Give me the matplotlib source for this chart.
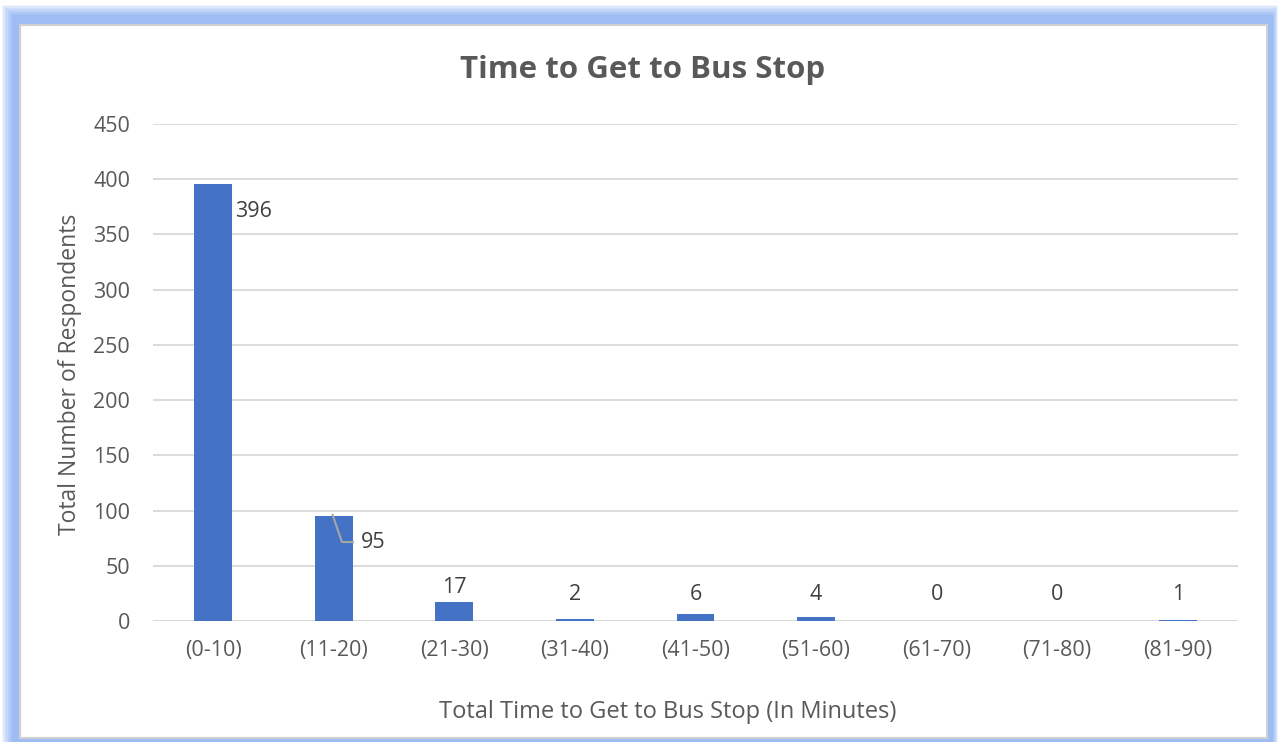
import matplotlib
matplotlib.use("Agg")
import matplotlib.pyplot as plt
from matplotlib.patches import Rectangle
import matplotlib.colors as mcolors
import numpy as np

categories = ["(0-10)", "(11-20)", "(21-30)", "(31-40)", "(41-50)", "(51-60)", "(61-70)", "(71-80)", "(81-90)"]
values = [396, 95, 17, 2, 6, 4, 0, 0, 1]
yticks = [0, 50, 100, 150, 200, 250, 300, 350, 400, 450]

W, H = 1278, 742
fig = plt.figure(figsize=(W/100, H/100), dpi=100)
fig.patch.set_facecolor("white")

# soft blue glow border (nested rectangles, pixel coordinates from top-left)
outer = (2, 5, 1278, 750)     # left, top, right, bottom
inner = (12, 15, 1273, 746)
c0 = np.array(mcolors.to_rgb("#F2F6FE"))
c1 = np.array(mcolors.to_rgb("#9FBDF5"))
steps = 8
for k in range(steps):
    t = k / (steps - 1)
    l = outer[0] + (inner[0] - outer[0]) * t
    tp = outer[1] + (inner[1] - outer[1]) * t
    r = outer[2] + (inner[2] - outer[2]) * t
    b = outer[3] + (inner[3] - outer[3]) * t
    col = c0 + (c1 - c0) * (t ** 0.7)
    fig.patches.append(Rectangle((l/W, 1-b/H), (r-l)/W, (b-tp)/H, transform=fig.transFigure,
                                 facecolor=col, edgecolor="none", zorder=-10 + k * 0.01))
fig.patches.append(Rectangle((20/W, 1-738/H), (1267-20)/W, (738-25)/H, transform=fig.transFigure,
                             facecolor="white", edgecolor="#D0D0D0", linewidth=1.5, zorder=-8))

text_color = "#595959"
label_color = "#404040"
font = "Open Sans"
fs = 15.5

ax = fig.add_axes([153/W, 1-621/H, (1238-153)/W, (621-124)/H])
ax.set_facecolor("none")
x = list(range(len(categories)))
ax.bar(x, values, width=0.315, color="#4472C4", zorder=3)
ax.set_xlim(-0.5, len(categories)-0.5)
ax.set_ylim(0, 450)
ax.set_yticks(yticks)
ax.set_yticklabels([str(t) for t in yticks], fontsize=fs, color=text_color, family=font)
ax.set_xticks(x)
ax.set_xticklabels(categories, fontsize=fs, color=text_color, family=font)
ax.tick_params(axis="y", length=0, pad=16.5)
ax.tick_params(axis="x", length=0, pad=14)
ax.grid(axis="y", color="#D9D9D9", linewidth=1.3, zorder=0)
for s in ax.spines.values():
    s.set_visible(False)
ax.axhline(0, color="#D9D9D9", linewidth=1.3, zorder=2)

# data labels
for i, v in enumerate(values):
    if i == 0:
        ax.text(i + 0.18, v - 25.5, str(v), fontsize=fs, color=label_color, family=font,
                ha="left", va="center", zorder=4)
    elif i == 1:
        ax.plot([i - 0.01, i + 0.067, i + 0.158], [v + 1, v - 23.5, v - 23.5], color="#A6A6A6",
                linewidth=1.5, zorder=4)
        ax.text(i + 0.225, v - 24, str(v), fontsize=fs, color=label_color, family=font,
                ha="left", va="center", zorder=4)
    else:
        ax.text(i, max(v + 13.5, 24), str(v), fontsize=fs, color=label_color, family=font,
                ha="center", va="center", zorder=4)

ax.set_xlabel("Total Time to Get to Bus Stop (In Minutes)", fontsize=17, color=text_color,
              family=font, va="center")
ax.xaxis.set_label_coords((668-153)/1085, (621-712)/497)
ax.set_ylabel("Total Number of Respondents", fontsize=16.5, color=text_color, family=font,
              va="center", ha="center")
ax.yaxis.set_label_coords((70-153)/1085, 0.497)

fig.text(643/W, 1-70/H, "Time to Get to Bus Stop", fontsize=22.5, fontweight="bold",
         color=text_color, family=font, ha="center", va="center")

fig.savefig("out.png", dpi=100, facecolor=fig.get_facecolor())
